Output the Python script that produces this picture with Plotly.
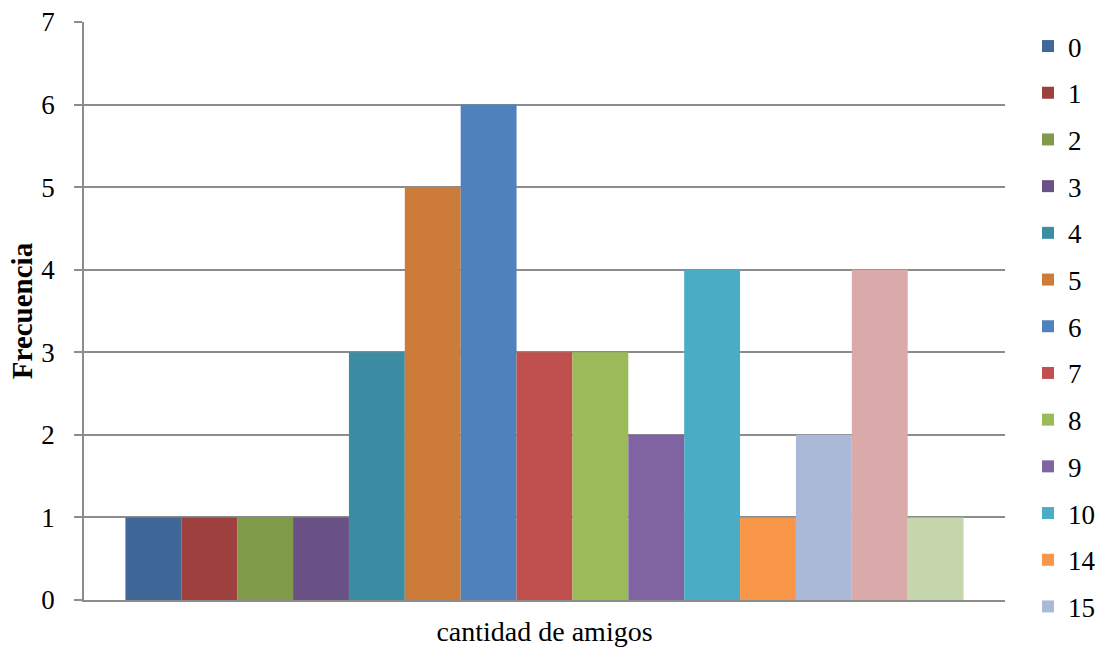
import plotly.graph_objects as go

# Frequency of number of friends (one bar per value, Excel-style clustered column)
labels = ["0", "1", "2", "3", "4", "5", "6", "7", "8", "9", "10", "14", "15", "16", "20"]
freqs = [1, 1, 1, 1, 3, 5, 6, 3, 3, 2, 4, 1, 2, 4, 1]
colors = ["#3F6899", "#9E413E", "#7F9A48", "#695185", "#3C8DA3", "#CC7B38",
          "#4F81BD", "#C0504D", "#9BBB59", "#8064A2", "#4BACC6", "#F79646",
          "#AAB9D7", "#D9AAA9", "#C6D6AC"]
legend_count = 13  # legend box only has room for the first entries
category = ["cantidad de amigos"]
y_ticks = [0, 1, 2, 3, 4, 5, 6, 7]

FONT = "Liberation Serif, DejaVu Serif, serif"
GRID = "#8C8C8C"

fig = go.Figure()
for i, (lab, val, col) in enumerate(zip(labels, freqs, colors)):
    fig.add_trace(go.Bar(
        x=category, y=[val], name=lab, marker=dict(color=col, line=dict(width=0)),
        legendgroup=lab, showlegend=i < legend_count,
    ))

fig.update_layout(
    width=1099, height=648,
    margin=dict(l=84, r=94, t=22, b=48, autoexpand=False),
    paper_bgcolor="white", plot_bgcolor="white",
    barmode="group", bargap=0.09, bargroupgap=0,
    font=dict(family=FONT, size=27, color="black"),
    legend=dict(
        xref="container", yref="container", x=1028 / 1099, y=1 - 22 / 648,
        xanchor="left", yanchor="top", maxheight=1.0,
        font=dict(family=FONT, size=27), tracegroupgap=8.6,
        bgcolor="rgba(0,0,0,0)",
    ),
    xaxis=dict(
        showticklabels=False, showgrid=False, ticks="",
        showline=True, linecolor=GRID, linewidth=1.5,
        title=dict(text="cantidad de amigos", standoff=21,
                   font=dict(family=FONT, size=28)),
    ),
    yaxis=dict(
        range=[0, 7], tickvals=y_ticks, showgrid=True, gridcolor=GRID, gridwidth=1.5,
        showline=True, linecolor=GRID, linewidth=1.5,
        ticks="outside", ticklen=8, tickcolor=GRID, tickwidth=1.5,
        ticklabelstandoff=14, zeroline=False,
        tickfont=dict(family=FONT, size=27),
        title=dict(text="<b>Frecuencia</b>", standoff=0,
                   font=dict(family=FONT, size=29)),
    ),
)

fig.write_html("out.html")
